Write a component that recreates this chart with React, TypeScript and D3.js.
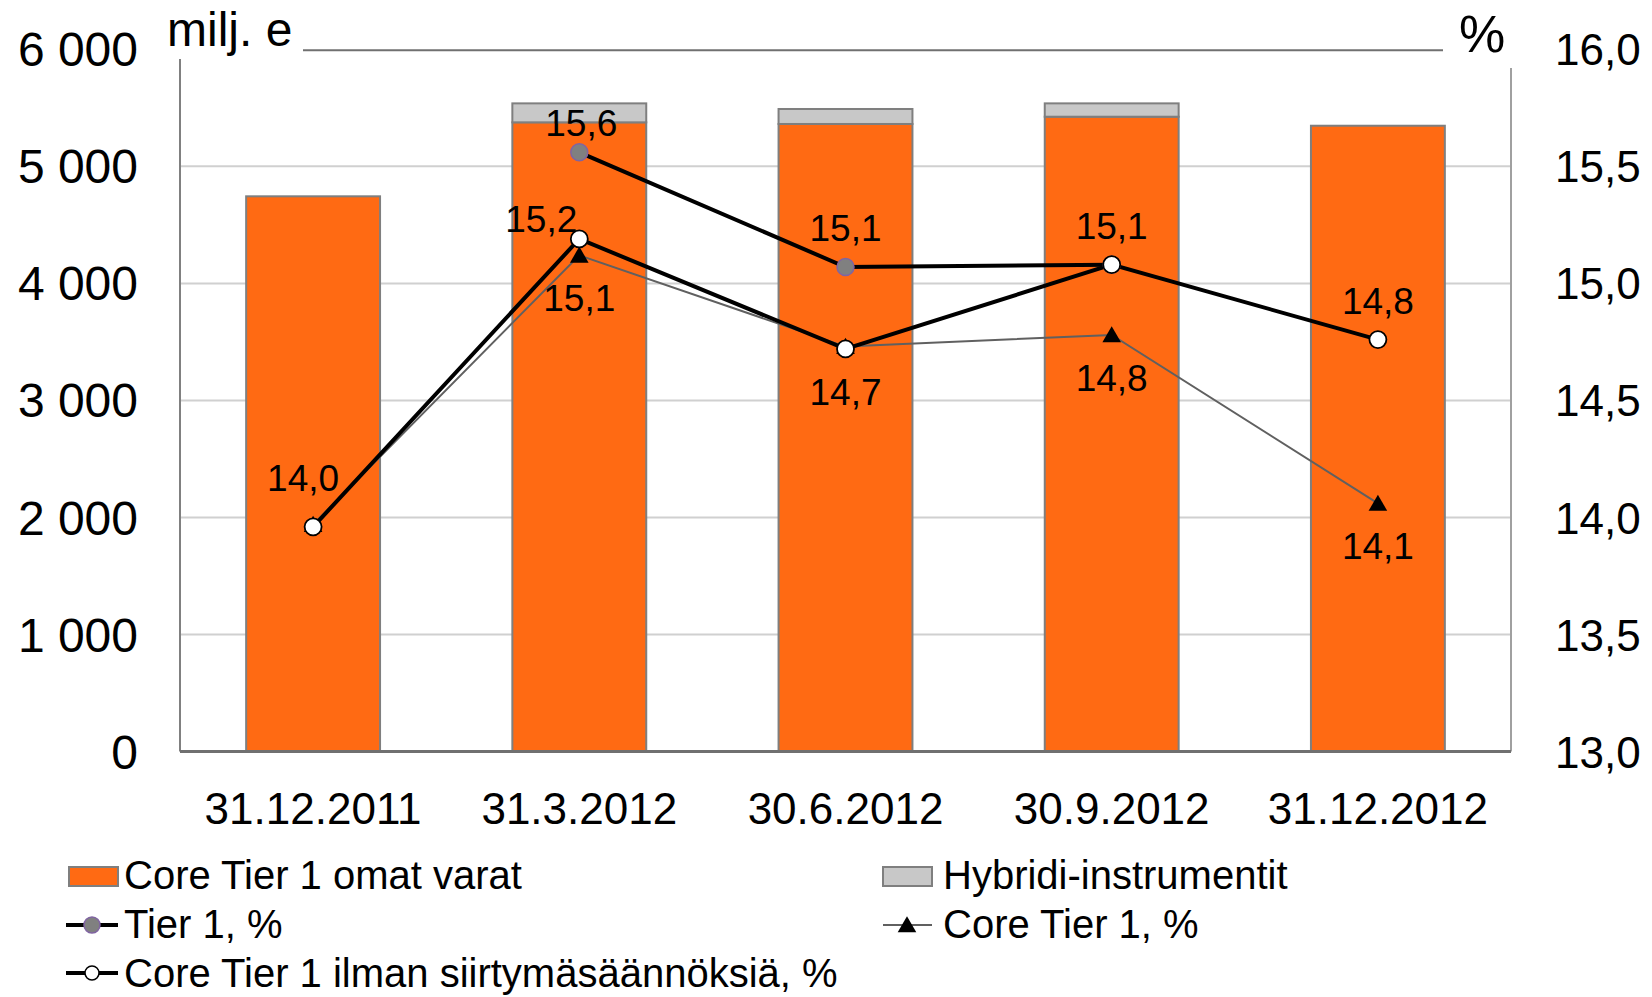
import React from 'react'
import * as d3 from 'd3'

// categories and values
const categories = ['31.12.2011', '31.3.2012', '30.6.2012', '30.9.2012', '31.12.2012']
const coreTier1Capital = [4744, 5376, 5362, 5424, 5347] // milj. e
const hybridInstruments = [0, 162, 128, 114, 0] // milj. e
const tier1Ratio: (number | null)[] = [null, 15.56, 15.07, 15.08, null] // %
const coreTier1Ratio: (number | null)[] = [13.97, 15.12, 14.73, 14.78, 14.06] // %
const coreTier1NoTransition: (number | null)[] = [13.96, 15.19, 14.72, 15.08, 14.76] // %

const leftTicks = [0, 1000, 2000, 3000, 4000, 5000, 6000]
const rightTicks = [13, 13.5, 14, 14.5, 15, 15.5, 16]

// where each data label sits relative to its marker
type Place = 'above' | 'below' | 'left' | 'aboveLeft' | 'tight' | null
const tier1Places: Place[] = [null, 'tight', 'above', null, null]
const coreTier1Places: Place[] = [null, 'below', null, 'below', 'below']
const noTransitionPlaces: Place[] = ['aboveLeft', 'left', 'below', 'above', 'above']

const W = 1652
const H = 997
const FONT = '"Liberation Sans", Arial, sans-serif'
const ORANGE = '#ff6a13'
const HYBRID = '#c8c8c8'
const BAR_STROKE = '#7f7f7f'

const fi = d3.formatLocale({ decimal: ',', thousands: '\u00a0', grouping: [3], currency: ['', ''] })
const fmtLeft = fi.format(',d')
const fmtPct = fi.format('.1f')

const placeOffset = (p: Place) => {
  switch (p) {
    case 'above':
      return { dx: 0, dy: -26, anchor: 'middle' }
    case 'below':
      return { dx: 0, dy: 56, anchor: 'middle' }
    case 'left':
      return { dx: -2, dy: -7, anchor: 'end' }
    case 'aboveLeft':
      return { dx: -10, dy: -36, anchor: 'middle' }
    case 'tight':
      return { dx: 2, dy: -16, anchor: 'middle' }
    default:
      return null
  }
}

const App: React.FC = () => {
  const x = d3.scaleBand<string>().domain(categories).range([180, 1511]).paddingInner(0.497).paddingOuter(0.2485)
  const yL = d3.scaleLinear().domain([0, 6000]).range([751.6, 49.3])
  const yR = d3.scaleLinear().domain([13, 16]).range([751.6, 49.3])
  const cx = (c: string) => (x(c) ?? 0) + x.bandwidth() / 2

  const line = d3
    .line<number | null>()
    .defined(d => d != null)
    .x((_, i) => cx(categories[i]))
    .y(d => yR(d as number))

  const tri = d3.symbol().type(d3.symbolTriangle).size(150)()

  const labels = (vals: (number | null)[], places: Place[]) =>
    vals.map((v, i) => {
      const o = placeOffset(places[i])
      if (v == null || !o) return null
      return (
        <text
          key={i}
          x={cx(categories[i]) + o.dx}
          y={yR(v) + o.dy}
          textAnchor={o.anchor as any}
          fontSize={37}
        >
          {fmtPct(v)}
        </text>
      )
    })

  const plotL = 180
  const plotR = 1511

  return (
    <svg
      width={W}
      height={H}
      style={{ position: 'absolute', left: 0, top: 0, background: '#fff' }}
      fontFamily={FONT}
    >
      {/* gridlines */}
      {leftTicks
        .filter(t => t > 0 && t < 6000)
        .map(t => (
          <line key={t} x1={plotL} x2={plotR} y1={yL(t)} y2={yL(t)} stroke="#d0d0d0" strokeWidth={2} />
        ))}
      <line x1={303} x2={1443} y1={yL(6000) + 1} y2={yL(6000) + 1} stroke="#707070" strokeWidth={2} />

      {/* axes */}
      <line x1={plotL} x2={plotL} y1={59} y2={yL(0)} stroke="#808080" strokeWidth={2} />
      <line x1={plotR} x2={plotR} y1={68} y2={yL(0)} stroke="#a0a0a0" strokeWidth={2} />

      {/* bars */}
      {categories.map((c, i) => (
        <g key={c}>
          <rect
            x={x(c)}
            y={yL(coreTier1Capital[i])}
            width={x.bandwidth()}
            height={yL(0) - yL(coreTier1Capital[i])}
            fill={ORANGE}
            stroke={BAR_STROKE}
            strokeWidth={2}
          />
          {hybridInstruments[i] > 0 && (
            <rect
              x={x(c)}
              y={yL(coreTier1Capital[i] + hybridInstruments[i])}
              width={x.bandwidth()}
              height={yL(coreTier1Capital[i]) - yL(coreTier1Capital[i] + hybridInstruments[i])}
              fill={HYBRID}
              stroke={BAR_STROKE}
              strokeWidth={2}
            />
          )}
        </g>
      ))}

      <line x1={plotL} x2={plotR} y1={yL(0)} y2={yL(0)} stroke="#707070" strokeWidth={3} />

      {/* left ticks */}
      {leftTicks.map(t => (
        <text key={t} x={138} y={yL(t) + 17} textAnchor="end" fontSize={48}>
          {fmtLeft(t)}
        </text>
      ))}
      {/* right ticks */}
      {rightTicks.map(t => (
        <text key={t} x={1555} y={yR(t) + 16} fontSize={44}>
          {fmtPct(t)}
        </text>
      ))}
      {/* category labels */}
      {categories.map(c => (
        <text key={c} x={cx(c)} y={824} textAnchor="middle" fontSize={44}>
          {c}
        </text>
      ))}

      <text x={167} y={46} fontSize={48}>
        milj. e
      </text>
      <text x={1459} y={52} fontSize={52}>
        %
      </text>

      {/* lines */}
      <path d={line(coreTier1Ratio) ?? ''} fill="none" stroke="#606060" strokeWidth={2} />
      <path d={line(tier1Ratio) ?? ''} fill="none" stroke="#000" strokeWidth={4} />
      <path d={line(coreTier1NoTransition) ?? ''} fill="none" stroke="#000" strokeWidth={4} />

      {/* markers */}
      {coreTier1Ratio.map((v, i) =>
        v == null ? null : (
          <path key={i} d={tri ?? ''} transform={`translate(${cx(categories[i])},${yR(v) + 2})`} fill="#000" />
        )
      )}
      {tier1Ratio.map((v, i) =>
        v == null ? null : (
          <circle key={i} cx={cx(categories[i])} cy={yR(v)} r={8.5} fill="#808080" stroke="#8064a2" strokeWidth={1.5} />
        )
      )}
      {coreTier1NoTransition.map((v, i) =>
        v == null ? null : (
          <circle key={i} cx={cx(categories[i])} cy={yR(v)} r={8.5} fill="#fff" stroke="#000" strokeWidth={1.8} />
        )
      )}

      {/* data labels */}
      {labels(tier1Ratio, tier1Places)}
      {labels(coreTier1Ratio, coreTier1Places)}
      {labels(coreTier1NoTransition, noTransitionPlaces)}

      {/* legend */}
      <g fontSize={40}>
        <rect x={69} y={867} width={49} height={19} fill={ORANGE} stroke={BAR_STROKE} strokeWidth={2} />
        <text x={124} y={889}>Core Tier 1 omat varat</text>

        <rect x={883} y={867} width={49} height={19} fill={HYBRID} stroke={BAR_STROKE} strokeWidth={2} />
        <text x={943} y={889}>Hybridi-instrumentit</text>

        <line x1={66} x2={118} y1={925} y2={925} stroke="#000" strokeWidth={4} />
        <circle cx={92} cy={925} r={8} fill="#808080" stroke="#8064a2" strokeWidth={1.5} />
        <text x={124} y={938}>Tier 1, %</text>

        <line x1={883} x2={932} y1={925} y2={925} stroke="#606060" strokeWidth={2} />
        <path d={tri ?? ''} transform="translate(907,927)" fill="#000" />
        <text x={943} y={938}>Core Tier 1, %</text>

        <line x1={66} x2={118} y1={973} y2={973} stroke="#000" strokeWidth={4} />
        <circle cx={92} cy={973} r={7} fill="#fff" stroke="#000" strokeWidth={1.5} />
        <text x={124} y={987}>Core Tier 1 ilman siirtymäsäännöksiä, %</text>
      </g>
    </svg>
  )
}

export default App
